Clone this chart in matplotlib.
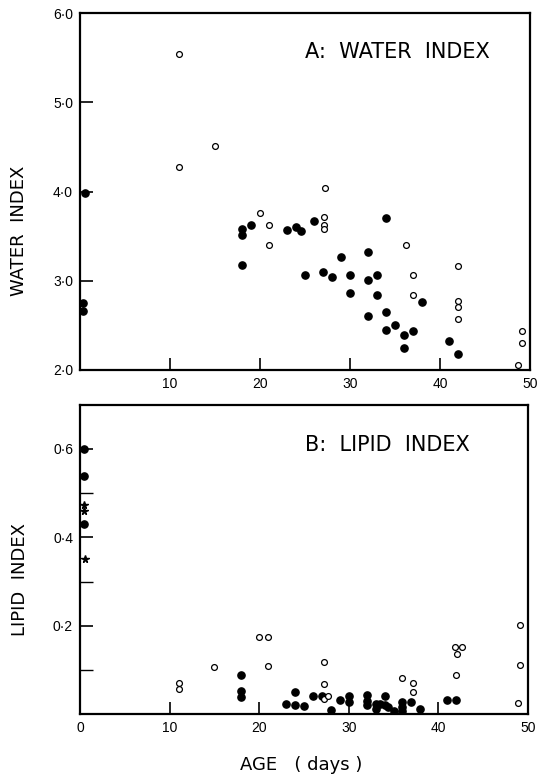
import numpy as np
import matplotlib.pyplot as plt
from matplotlib.ticker import FixedLocator

plt.rcParams['font.family'] = ['Liberation Sans', 'DejaVu Sans']

# ---------------- data: A, water index ----------------
wat_fill_x = [0.5, 0.3, 0.3, 18, 18, 18, 19, 23, 24, 24.6, 26, 25, 27, 28, 29, 30, 30,
              32, 32, 32, 33, 33, 34, 34, 34, 35, 36, 36, 37, 38, 41, 42]
wat_fill_y = [3.98, 2.75, 2.66, 3.58, 3.51, 3.18, 3.63, 3.57, 3.60, 3.56, 3.67, 3.06, 3.10,
              3.04, 3.27, 3.06, 2.86, 3.32, 3.01, 2.60, 3.06, 2.84, 3.70, 2.65, 2.45, 2.50,
              2.39, 2.25, 2.44, 2.76, 2.32, 2.18]
wat_open_x = [11, 11, 15, 20, 21, 21, 27.2, 27.1, 27.1, 27.1, 36.2, 37, 37, 42, 42, 42, 42,
              49.1, 49.1, 48.7]
wat_open_y = [5.54, 4.27, 4.51, 3.76, 3.62, 3.40, 4.04, 3.71, 3.62, 3.58, 3.40, 3.06, 2.84,
              3.16, 2.77, 2.71, 2.57, 2.44, 2.30, 2.06]

# ---------------- data: B, lipid index ----------------
lip_fill_x = [0.4, 0.4, 0.5, 18, 18, 18, 23, 24, 24, 25, 26, 27, 28, 29, 30, 30, 32, 32, 32,
              33, 33, 33.5, 34, 34, 34.4, 35, 36, 36, 36, 37, 38, 41, 42]
lip_fill_y = [0.60, 0.54, 0.43, 0.089, 0.052, 0.039, 0.023, 0.050, 0.021, 0.019, 0.042, 0.042,
              0.010, 0.032, 0.042, 0.027, 0.043, 0.030, 0.020, 0.023, 0.011, 0.023, 0.040,
              0.020, 0.017, 0.007, 0.027, 0.017, 0.008, 0.027, 0.011, 0.032, 0.032]
lip_open_x = [11, 11, 15, 20, 21, 21, 27.2, 27.2, 27.2, 27.7, 36, 37.2, 37.2, 42, 41.9, 42.6,
              42.1, 49.1, 49.1, 48.9]
lip_open_y = [0.070, 0.056, 0.107, 0.175, 0.175, 0.108, 0.118, 0.068, 0.033, 0.042, 0.082,
              0.071, 0.050, 0.089, 0.152, 0.152, 0.136, 0.202, 0.111, 0.025]
lip_star_x = [0.5, 0.5, 0.6]
lip_star_y = [0.473, 0.460, 0.352]

fig = plt.figure(figsize=(5.37, 7.77), dpi=100)
axA = fig.add_axes([0.149, 0.524, 0.838, 0.459])
axB = fig.add_axes([0.149, 0.081, 0.834, 0.398])

lab = dict(family='DejaVu Sans', fontsize=13)

for ax in (axA, axB):
    for s in ax.spines.values():
        s.set_linewidth(1.6)
    ax.tick_params(direction='in', length=9, width=1.2, labelsize=10, pad=5)
    ax.tick_params(which='minor', direction='in', length=9, width=1.0)

# panel A
axA.plot(wat_fill_x, wat_fill_y, 'o', color='black', ms=5.2, ls='none')
axA.plot(wat_open_x, wat_open_y, 'o', mfc='white', mec='black', mew=0.9, ms=4.2, ls='none')
axA.set_xlim(0, 50)
axA.set_ylim(2.0, 6.0)
axA.set_xticks([10, 20, 30, 40, 50])
axA.set_xticklabels(['10', '20', '30', '40', '50'])
axA.set_yticks([2, 3, 4, 5, 6])
axA.set_yticklabels(['2·0', '3·0', '4·0', '5·0', '6·0'])
axA.set_ylabel('WATER  INDEX', **lab)
axA.yaxis.set_label_coords(-0.115, 0.39)
axA.text(0.5, 0.89, 'A:  WATER  INDEX', transform=axA.transAxes, family='DejaVu Sans',
         fontsize=15, ha='left', va='center')

# panel B
axB.plot(lip_fill_x, lip_fill_y, 'o', color='black', ms=5.2, ls='none')
axB.plot(lip_open_x, lip_open_y, 'o', mfc='white', mec='black', mew=0.9, ms=4.2, ls='none')
axB.plot(lip_star_x, lip_star_y, '*', color='black', ms=5.5, ls='none')
axB.set_xlim(0, 50)
axB.set_ylim(0, 0.7)
axB.set_xticks([0, 10, 20, 30, 40, 50])
axB.set_xticklabels(['0', '10', '20', '30', '40', '50'])
axB.set_yticks([0.2, 0.4, 0.6])
axB.set_yticklabels(['0·2', '0·4', '0·6'])
axB.yaxis.set_minor_locator(FixedLocator([0.1, 0.3, 0.5]))
axB.set_ylabel('LIPID  INDEX', **lab)
axB.yaxis.set_label_coords(-0.115, 0.434)
axB.set_xlabel('AGE   ( days )', family='DejaVu Sans', fontsize=13)
axB.xaxis.set_label_coords(0.493, -0.135)
axB.text(0.502, 0.87, 'B:  LIPID  INDEX', transform=axB.transAxes, family='DejaVu Sans',
         fontsize=15, ha='left', va='center')

fig.savefig('out.png', dpi=100)
